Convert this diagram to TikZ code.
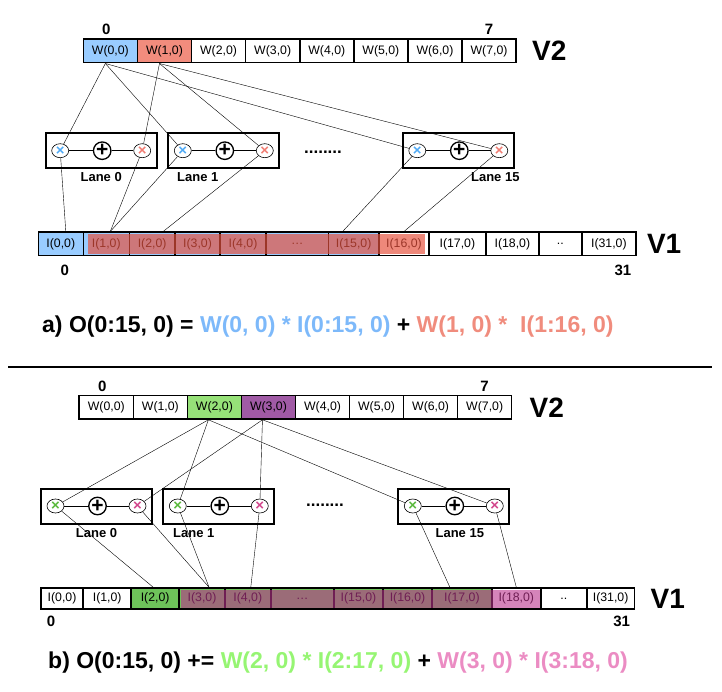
\documentclass[tikz,border=0pt]{standalone}
\usepackage{fontspec}
\setmainfont{Liberation Sans}
\usetikzlibrary{shapes.geometric}
% colours
\definecolor{cblue}{RGB}{153,204,255}
\definecolor{cred}{RGB}{242,140,125}
\definecolor{xblue}{RGB}{80,170,245}
\definecolor{xred}{RGB}{240,125,115}
\definecolor{ovred}{RGB}{230,80,60}
\definecolor{cgreen}{RGB}{150,225,120}
\definecolor{igreen}{RGB}{110,195,90}
\definecolor{cpurple}{RGB}{160,90,165}
\definecolor{xgreen}{RGB}{90,185,60}
\definecolor{xpink}{RGB}{210,70,140}
\definecolor{ovpurple}{RGB}{185,50,140}
\definecolor{fblue}{RGB}{125,185,250}
\definecolor{fred}{RGB}{240,140,125}
\definecolor{fgreen}{RGB}{150,245,115}
\definecolor{fpink}{RGB}{235,140,195}
\begin{document}
\begin{tikzpicture}[x=1pt,y=-1pt,
    cell/.style={draw,line width=1.6pt,inner sep=0pt,minimum height=23.4,font=\fontsize{12.3}{12}\selectfont},
    lanebox/.style={draw,line width=1.7pt,minimum width=111,minimum height=35},
    mul/.style={draw,ellipse,line width=.6pt,inner sep=0pt,minimum width=17,minimum height=14,font=\bfseries\fontsize{15}{15}\selectfont},
    add/.style={draw,circle,line width=1.3pt,inner sep=0pt,minimum size=17.5,font=\bfseries\fontsize{21}{21}\selectfont},
    idx/.style={font=\bfseries\fontsize{15}{15}\selectfont},
    vec/.style={font=\bfseries\fontsize{28}{28}\selectfont,inner sep=0pt},
    lbl/.style={font=\bfseries\fontsize{13}{13}\selectfont},
    dots/.style={font=\bfseries\fontsize{17}{17}\selectfont},
    eq/.style={font=\bfseries\fontsize{23}{23}\selectfont,inner sep=0pt}
  ]
  \useasboundingbox (0,0) rectangle (722,692);

  % ---- a) ----
  \foreach \i/\c in {0/cblue,1/cred,2/white,3/white,4/white,5/white,6/white,7/white}
    \node[cell,fill=\c,minimum width=54.1] (wa\i) at ({110.35+54.1*\i},51) {W(\i,0)};
  \node[idx,anchor=south] at ([xshift=-4]wa0.north) {0};
  \node[idx,anchor=south] at (wa7.north) {7};
  \node[vec,anchor=west] (v2a) at ([xshift=15]wa7.east) {V2};

  \foreach \l/\cx/\dx in {0/101.2/0,1/223.8/-26,15/458.3/37}{
    \node[lanebox] (lna\l) at (\cx,150.2) {};
    \node[mul,text=xblue] (xa\l) at (\cx-41,150.7) {×};
    \node[add] (pa\l) at (\cx+1,150.7) {+};
    \node[mul,text=xred] (ya\l) at (\cx+41,150.7) {×};
    \draw (xa\l) -- (pa\l) -- (ya\l);
    \node[lbl,anchor=north] at ([xshift=\dx]lna\l.south) {Lane \l};
    \draw ([xshift=-5]wa0.south) -- (xa\l);
    \draw ([xshift=-5]wa1.south) -- (ya\l);
  }
  \node[dots] at (323,152) {........};

  \foreach \k/\txt/\xl/\xr/\c in {0/{I(0,0)}/38.3/83.3/cblue, 1/{I(1,0)}/83.3/129.3/cblue,
      2/{I(2,0)}/129.3/175/cblue, 3/{I(3,0)}/175/220/cblue, 4/{I(4,0)}/220/266/cblue,
      d/{\dots}/266/328.3/cblue, 15/{I(15,0)}/328.3/379/cblue, 16/{I(16,0)}/379/429/white,
      17/{I(17,0)}/429/485.7/white, 18/{I(18,0)}/485.7/539/white, dd/{..}/539/581.7/white,
      31/{I(31,0)}/581.7/636/white}
    \node[cell,fill=\c,minimum width=\xr-\xl] (ia\k) at ({(\xl+\xr)/2},244) {\txt};
  \fill[ovred,opacity=.68] ([xshift=5,yshift=-2.7]ia1.north west) rectangle ([xshift=-4.7,yshift=2.4]ia16.south east);
  \node[idx,anchor=north] at ([xshift=4,yshift=-5]ia0.south) {0};
  \node[idx,anchor=north] at ([xshift=14,yshift=-5]ia31.south) {31};
  \node[vec,anchor=west] (v1a) at ([xshift=10]ia31.east) {V1};

  \draw (xa0) -- ([xshift=5]ia0.north);
  \draw (ya0) -- ([xshift=4]ia1.north);
  \draw (xa1) -- ([xshift=4]ia1.north);
  \draw (ya1) -- ([xshift=11]ia2.north);
  \draw (xa15) -- ([xshift=-11]ia15.north);
  \draw (ya15) -- (ia16.north);

  \node[eq,anchor=west] (eqa) at (42,327) {a) O(0:15, 0) = \textcolor{fblue}{W(0, 0) * I(0:15, 0)} + \textcolor{fred}{W(1, 0) *\ \ I(1:16, 0)}};

  \draw[line width=2pt] (8,367.3) -- (712,367.3);

  % ---- b) ----
  \foreach \i/\c in {0/white,1/white,2/cgreen,3/cpurple,4/white,5/white,6/white,7/white}
    \node[cell,fill=\c,minimum width=54.05] (wb\i) at ({106.3+54.05*\i},407.3) {W(\i,0)};
  \node[idx,anchor=south] at ([xshift=-4]wb0.north) {0};
  \node[idx,anchor=south] at (wb7.north) {7};
  \node[vec,anchor=west] (v2b) at ([xshift=17]wb7.east) {V2};

  \foreach \l/\cx/\dx in {0/96.5/0,1/218.8/-25,15/453.8/6}{
    \node[lanebox] (lnb\l) at (\cx,506.5) {};
    \node[mul,text=xgreen] (xb\l) at (\cx-41,506) {×};
    \node[add] (pb\l) at (\cx+1,506) {+};
    \node[mul,text=xpink] (yb\l) at (\cx+41,506) {×};
    \draw (xb\l) -- (pb\l) -- (yb\l);
    \node[lbl,anchor=north] at ([xshift=\dx]lnb\l.south) {Lane \l};
    \draw ([xshift=-6]wb2.south) -- (xb\l);
    \draw ([xshift=-6]wb3.south) -- (yb\l);
  }
  \node[dots] at (325,505) {........};

  \foreach \k/\txt/\xl/\xr/\c in {0/{I(0,0)}/40.9/83.2/white, 1/{I(1,0)}/83.2/131.2/white,
      2/{I(2,0)}/131.2/179.1/igreen, 3/{I(3,0)}/179.1/224.9/igreen, 4/{I(4,0)}/224.9/270.7/igreen,
      d/{\dots}/270.7/333.9/igreen, 15/{I(15,0)}/333.9/383.1/igreen, 16/{I(16,0)}/383.1/432/igreen,
      17/{I(17,0)}/432/491.7/igreen, 18/{I(18,0)}/491.7/540.9/white, dd/{..}/540.9/586.7/white,
      31/{I(31,0)}/586.7/634.6/white}
    \node[cell,fill=\c,minimum width=\xr-\xl,minimum height=21] (ib\k) at ({(\xl+\xr)/2},598.5) {\txt};
  \fill[ovpurple,opacity=.6] ([xshift=2.2,yshift=-2.4]ib3.north west) rectangle ([xshift=-2.2,yshift=1.8]ib18.south east);
  \node[idx,anchor=north] at ([xshift=-11,yshift=-3]ib0.south) {0};
  \node[idx,anchor=north] at ([xshift=11,yshift=-3]ib31.south) {31};
  \node[vec,anchor=west] (v1b) at ([xshift=15]ib31.east) {V1};

  \draw (xb0) -- ([xshift=-2]ib2.north);
  \draw (yb0) -- ([xshift=7]ib3.north);
  \draw (xb1) -- ([xshift=7]ib3.north);
  \draw (yb1) -- ([xshift=3]ib4.north);
  \draw (xb15) -- ([xshift=-12]ib17.north);
  \draw (yb15) -- (ib18.north);

  \node[eq,anchor=west] (eqb) at (48,663) {b) O(0:15, 0) += \textcolor{fgreen}{W(2, 0) * I(2:17, 0)} + \textcolor{fpink}{W(3, 0) * I(3:18, 0)}};
\end{tikzpicture}
\end{document}
